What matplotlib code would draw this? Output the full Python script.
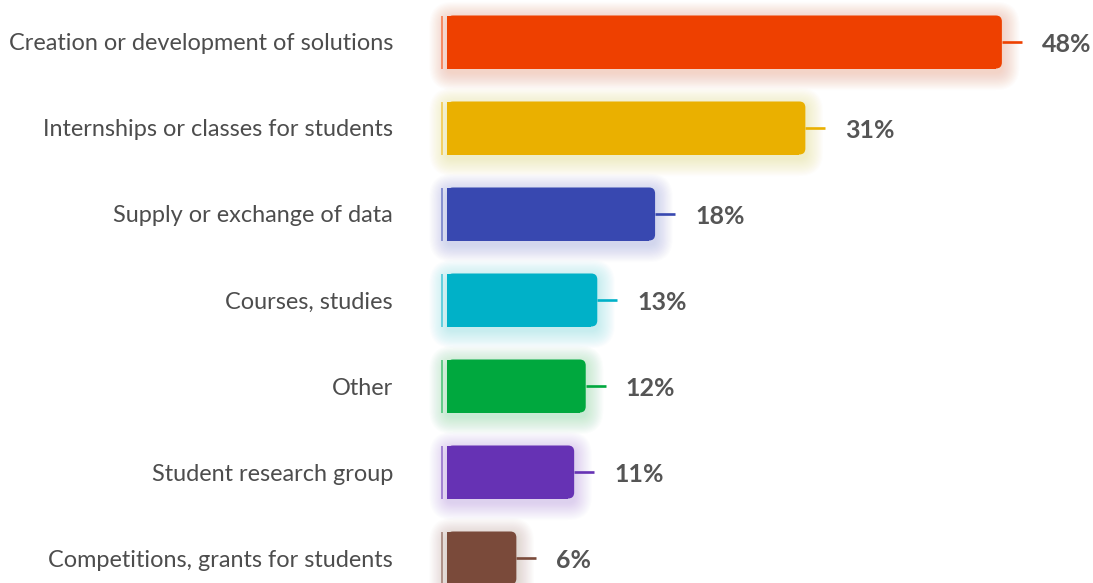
import matplotlib
matplotlib.use("Agg")
import matplotlib.pyplot as plt
from matplotlib.patches import FancyBboxPatch
from matplotlib.colors import to_rgb

categories = [
    "Creation or development of solutions",
    "Internships or classes for students",
    "Supply or exchange of data",
    "Courses, studies",
    "Other",
    "Student research group",
    "Competitions, grants for students",
]
values = [48, 31, 18, 13, 12, 11, 6]
colors = ["#EE4000", "#EAB000", "#3848B0", "#00B1C8", "#00A83E", "#6632B4", "#7A4A3A"]

W, H = 1093, 583
px_x = 11.56   # pixels per percent
px_y = 86.0    # pixels per row
x0_px = 447    # pixel where bars start
y0_px = 42     # centre of first row

fig = plt.figure(figsize=(W / 100, H / 100), dpi=100)
ax = fig.add_axes([0, 0, 1, 1])
ax.set_xlim(-x0_px / px_x, (W - x0_px) / px_x)
ax.set_ylim((H - y0_px) / px_y, -y0_px / px_y)
ax.axis("off")

bar_h = 53 / px_y
aspect = px_x / px_y
rad = 6 / px_x


def lighten(c, f):
    r, g, b = to_rgb(c)
    return (r + (1 - r) * f, g + (1 - g) * f, b + (1 - b) * f)


for i, (cat, v, c) in enumerate(zip(categories, values, colors)):
    top = i - bar_h / 2
    # soft glow behind the bar
    for k in range(1, 17):
        pad = k * 1.1 / px_x
        glow = FancyBboxPatch((0, top + 4 / px_y), v, bar_h,
                              boxstyle=f"round,pad={pad},rounding_size={rad + pad}",
                              mutation_aspect=aspect, fc=lighten(c, 0.3), ec="none",
                              alpha=0.018, zorder=1)
        ax.add_patch(glow)
    # square left part + rounded right end
    ax.barh(i, v - rad, height=bar_h, left=0, color=c, zorder=3)
    ax.add_patch(FancyBboxPatch((0, top), v, bar_h,
                                boxstyle=f"round,pad=0,rounding_size={rad}",
                                mutation_aspect=aspect, fc=c, ec="none", zorder=3))
    # thin marker in front of the bar
    ax.barh(i, 2 / px_x, height=bar_h, left=-6 / px_x, color=lighten(c, 0.4), zorder=3)
    # stub line to the value label
    ax.hlines(i, v, v + 20 / px_x, colors=c, lw=1.9, zorder=2)
    ax.annotate(f"{v}%", xy=(v, i), xytext=(40 * 0.72, -2 * 0.72), textcoords="offset points",
                ha="left", va="center", fontsize=18, fontweight="bold",
                color="#555555", family=["Lato", "DejaVu Sans"])
    ax.annotate(cat, xy=(0, i), xytext=(-54 * 0.72, -2 * 0.72), textcoords="offset points",
                ha="right", va="center", fontsize=16.9, color="#4d4d4d",
                family=["Lato", "DejaVu Sans"])

fig.savefig("out.png", dpi=100, facecolor="white")
